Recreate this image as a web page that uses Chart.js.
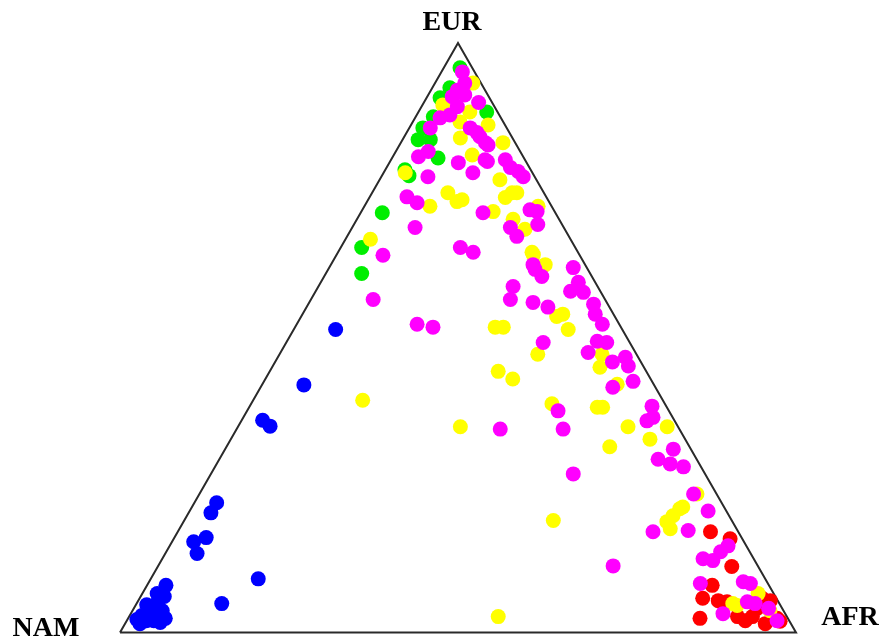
<!DOCTYPE html>
<html>
<head>
<meta charset="utf-8">
<script src="https://cdn.jsdelivr.net/npm/chart.js@4/dist/chart.umd.min.js"></script>
<style>
  html, body { margin: 0; padding: 0; background: #ffffff; }
  #wrap { width: 882px; height: 640px; position: relative; }
</style>
</head>
<body>
<div id="wrap"><canvas id="tern"></canvas></div>
<script>
// Ternary composition of each sample, in percent: [EUR, AFR]; NAM = 100 - EUR - AFR
const vertexLabels = ['EUR', 'NAM', 'AFR'];

const blueSamples = [[51.4,6.2],[42.0,6.2],[36.0,3.1],[35.0,4.7],[22.0,3.3],[20.3,3.3],[16.1,4.7],[15.4,3.2],
  [13.4,4.7],[9.1,15.9],[4.9,12.6],[8.0,2.8],[6.1,3.5],[5.2,3.0],[4.7,1.6],[3.7,4.4],[3.4,3.0],[2.9,1.8],
  [2.4,5.5],[2.0,4.0],[2.2,1.4],[2.0,2.9],[1.7,5.1],[6.6,2.2],[4.1,2.4],[1.5,2.2]];

const greenSamples = [[95.8,2.4],[92.4,2.6],[90.7,2.0],[87.5,2.6],[85.6,2.0],[83.6,2.3],[83.6,4.1],[80.5,6.8],
  [88.3,10.1],[78.5,2.9],[77.5,4.0],[71.2,3.2],[65.3,3.1],[60.9,5.3]];

const yellowSamples = [[93.2,5.6],[89.5,3.0],[88.3,7.6],[86.6,7.0],[86.1,11.4],[83.9,8.4],[83.1,15.1],[81.0,11.6],
  [78.0,3.2],[76.8,17.8],[74.6,11.2],[73.4,13.9],[72.3,9.7],[74.6,20.7],[73.8,20.1],[74.6,21.4],[71.4,19.5],
  [72.3,25.7],[70.1,23.1],[68.4,25.7],[64.5,28.7],[62.4,31.7],[64.1,29.1],[66.7,3.7],[73.1,13.3],[51.8,29.6],
  [51.8,30.8],[39.4,16.2],[34.9,32.9],[44.3,33.8],[43.0,36.6],[38.8,44.5],[38.2,52.3],[38.2,51.5],[34.9,57.7],
  [31.5,56.7],[54.0,38.5],[51.4,40.6],[53.6,37.8],[47.2,38.2],[47.2,47.7],[45.0,48.5],[42.1,52.5],[32.8,62.0],
  [34.9,63.5],[19.0,54.6],[2.7,54.6],[23.5,73.6],[21.3,72.6],[19.8,71.9],[18.8,71.5],[17.6,72.6],[21.0,72.3],
  [4.6,89.0],[3.7,94.3],[6.6,91.1],[4.9,88.2]];

const magentaSamples = [[95.1,3.1],[93.2,4.4],[92.0,3.9],[90.9,3.7],[91.2,5.4],[89.2,5.3],[89.9,8.1],[87.8,4.9],
  [87.3,3.7],[85.6,3.1],[85.6,9.0],[84.8,10.4],[83.1,12.5],[84.1,11.2],[82.7,13.1],[80.7,3.8],[81.6,4.8],
  [79.7,10.2],[78.0,13.2],[80.2,13.9],[80.2,16.9],[78.9,18.3],[78.2,19.8],[77.3,21.0],[77.3,6.9],[79.9,14.4],
  [73.9,5.5],[72.9,7.5],[68.7,9.3],[71.2,18.1],[71.7,24.8],[71.4,26.0],[69.2,27.2],[68.7,23.4],[67.2,25.1],
  [64.5,20.0],[65.3,17.7],[62.4,29.9],[61.9,36.1],[64.0,6.9],[56.5,9.2],[52.3,17.8],[51.8,20.4],[58.7,28.8],
  [56.5,29.5],[61.6,30.6],[60.4,32.2],[56.0,33.1],[55.2,35.7],[59.4,38.1],[57.9,37.7],[57.7,39.7],[55.7,42.2],
  [54.0,43.3],[52.3,45.2],[49.4,45.9],[49.2,47.4],[47.5,45.5],[45.9,49.9],[46.7,51.4],[45.2,52.6],[41.6,52.1],
  [42.6,54.6],[49.2,38.0],[37.6,46.0],[38.4,59.5],[35.9,60.0],[34.5,39.0],[34.5,48.3],[36.5,60.6],[31.1,66.3],
  [29.4,64.9],[28.6,67.1],[28.1,69.3],[23.5,73.1],[26.9,53.6],[11.3,67.3],[20.6,76.7],[17.3,75.4],[17.1,70.3],
  [14.7,82.6],[13.7,82.0],[12.5,80.0],[12.2,81.6],[8.3,81.7],[8.6,87.9],[8.3,89.1],[5.2,90.2],[4.9,91.5],
  [3.2,87.6],[2.0,96.2],[4.1,93.9]];

const redSamples = [[17.1,78.8],[15.9,82.3],[11.2,84.9],[8.0,83.6],[5.8,83.3],[5.4,85.8],[5.2,87.2],[2.4,84.6],
  [2.7,90.0],[2.7,92.2],[5.4,93.5],[5.8,92.1],[2.4,96.0],[1.9,96.7],[4.1,92.2],[2.0,91.5],[1.5,94.7]];

// Corners of the simplex as compositions [EUR, AFR]
const corners = { EUR: [100, 0], NAM: [0, 0], AFR: [0, 100] };

// Map a composition onto the plane: AFR pulls right, EUR pulls up
function toPlane(c) {
  const eur = c[0] / 100, afr = c[1] / 100;
  return { x: afr + eur / 2, y: eur };
}

function dotSet(samples, color, order) {
  return {
    type: 'scatter',
    data: samples.map(toPlane),
    backgroundColor: color,
    borderWidth: 0,
    pointRadius: 7.5,
    pointHoverRadius: 7.5,
    clip: false,
    order: order
  };
}

const outline = [corners.NAM, corners.EUR, corners.AFR, corners.NAM].map(toPlane);

// Vertex captions placed relative to each corner
const captionPlugin = {
  id: 'captions',
  afterDraw(chart) {
    const { ctx, scales } = chart;
    const px = c => {
      const p = toPlane(c);
      return { x: scales.x.getPixelForValue(p.x), y: scales.y.getPixelForValue(p.y) };
    };
    const offsets = { EUR: [-6, -20], NAM: [-74, -4], AFR: [54, -15] };
    ctx.save();
    ctx.fillStyle = '#000000';
    ctx.font = 'bold 28px "Liberation Serif", "Times New Roman", serif';
    ctx.textAlign = 'center';
    ctx.textBaseline = 'middle';
    vertexLabels.forEach(name => {
      const p = px(corners[name]);
      ctx.fillText(name, p.x + offsets[name][0], p.y + offsets[name][1]);
    });
    ctx.restore();
  }
};

new Chart(document.getElementById('tern'), {
  type: 'scatter',
  data: {
    datasets: [
      {
        type: 'line',
        data: outline,
        borderColor: '#2a2a2a',
        borderWidth: 2,
        pointRadius: 0,
        fill: false,
        tension: 0,
        clip: false,
        order: 9
      },
      dotSet(greenSamples, '#00ee00', 5),
      dotSet(redSamples, '#ff0000', 4),
      dotSet(blueSamples, '#0000ff', 3),
      dotSet(yellowSamples, '#ffff00', 2),
      dotSet(magentaSamples, '#ff00ff', 1)
    ]
  },
  options: {
    responsive: true,
    maintainAspectRatio: false,
    animation: false,
    layout: { padding: { left: 120, right: 86, top: 43, bottom: 6 } },
    scales: {
      x: { type: 'linear', min: 0, max: 1, display: false },
      y: { type: 'linear', min: 0, max: 1, display: false }
    },
    plugins: {
      legend: { display: false },
      tooltip: { enabled: false }
    },
    events: []
  },
  plugins: [captionPlugin]
});
</script>
</body>
</html>
